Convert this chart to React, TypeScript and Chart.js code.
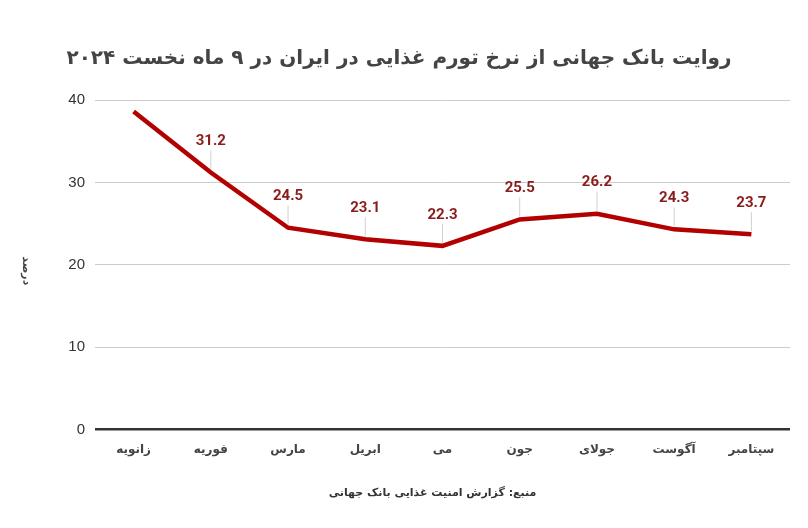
import { useEffect, useRef } from "react"
import { Chart, registerables } from "chart.js"

Chart.register(...registerables)

// Food inflation in Iran, first 9 months of 2024 (World Bank)
const months = ["زانویه", "فوریه", "مارس", "ابریل", "می", "جون", "جولای", "آگوست", "سپتامبر"]
const inflation = [38.6, 31.2, 24.5, 23.1, 22.3, 25.5, 26.2, 24.3, 23.7]
const yTicks = [0, 10, 20, 30, 40]

const titleText = "روایت بانک جهانی از نرخ تورم غذایی در ایران در ۹ ماه نخست ۲۰۲۴"
const yTitleText = "درصد"
const sourceText = "منبع: گزارش امنیت غذایی بانک جهانی"

const persianFont = "'DejaVu Sans', sans-serif"

// value labels above the points with a thin leader line (first point has none)
const valueLabels = {
  id: "valueLabels",
  afterDatasetsDraw(chart: any) {
    const { ctx } = chart
    const meta = chart.getDatasetMeta(0)
    ctx.save()
    ctx.font = "bold 15px Roboto, sans-serif"
    ctx.textAlign = "center"
    ctx.textBaseline = "middle"
    meta.data.forEach((pt: any, i: number) => {
      if (i === 0) return
      const ly = pt.y - 31
      ctx.strokeStyle = "#d0d0d0"
      ctx.lineWidth = 1
      ctx.beginPath()
      ctx.moveTo(pt.x, ly + 9)
      ctx.lineTo(pt.x, pt.y - 3)
      ctx.stroke()
      ctx.fillStyle = "#8a1c1c"
      ctx.fillText(inflation[i].toFixed(1), pt.x, ly)
    })
    ctx.restore()
  },
}

// y title reads top-to-bottom, source line under the axis
const extraText = {
  id: "extraText",
  afterDraw(chart: any) {
    const { ctx, chartArea } = chart
    ctx.save()
    ctx.fillStyle = "#444"
    ctx.font = `bold 11px ${persianFont}`
    ctx.textAlign = "center"
    ctx.textBaseline = "middle"
    ctx.translate(18, (chartArea.top + chartArea.bottom) / 2 + 6)
    ctx.rotate(Math.PI / 2)
    ctx.fillText(yTitleText, 0, 0)
    ctx.restore()

    ctx.save()
    ctx.fillStyle = "#333"
    ctx.font = `bold 11px ${persianFont}`
    ctx.textAlign = "center"
    ctx.textBaseline = "middle"
    ctx.fillText(sourceText, (chartArea.left + chartArea.right) / 2 - 10, chartArea.bottom + 64)
    ctx.restore()
  },
}

function InflationChart() {
  const chartRef = useRef<HTMLCanvasElement>(null)
  const chartInstance = useRef<Chart | null>(null)

  useEffect(() => {
    if (!chartRef.current) return
    if (chartInstance.current) chartInstance.current.destroy()
    const ctx = chartRef.current.getContext("2d")
    if (!ctx) return

    chartInstance.current = new Chart(ctx, {
      type: "line",
      data: {
        labels: months,
        datasets: [
          {
            label: "نرخ تورم غذایی",
            data: inflation,
            borderColor: "#b30000",
            backgroundColor: "#b30000",
            borderWidth: 4.5,
            pointRadius: 0,
            tension: 0,
          },
        ],
      },
      plugins: [valueLabels, extraText],
      options: {
        responsive: true,
        maintainAspectRatio: false,
        animation: false,
        layout: { padding: { left: 0, right: 10, bottom: 58 } },
        plugins: {
          legend: { display: false },
          tooltip: { enabled: false },
          title: {
            display: true,
            text: titleText,
            color: "#444",
            font: { family: persianFont, size: 20, weight: "bold" },
            padding: { top: 39, bottom: 29 },
          },
        },
        scales: {
          x: {
            offset: true,
            grid: { display: false },
            border: { display: false },
            ticks: {
              color: "#444",
              font: { family: persianFont, size: 12, weight: "bold" },
              padding: 5,
              maxRotation: 0,
            },
          },
          y: {
            min: 0,
            max: 40,
            afterFit: (scale: any) => {
              scale.width = 87
            },
            afterBuildTicks: (scale: any) => {
              scale.ticks = yTicks.map((v) => ({ value: v }))
            },
            border: { display: false },
            grid: {
              drawTicks: false,
              color: (c: any) => (c.tick && c.tick.value === 0 ? "#333" : "#cccccc"),
              lineWidth: (c: any) => (c.tick && c.tick.value === 0 ? 2.5 : 1),
            },
            ticks: {
              color: "#333",
              font: { family: "'Liberation Sans', Arial, sans-serif", size: 15 },
              padding: 10,
            },
          },
        },
      },
    })

    return () => {
      if (chartInstance.current) chartInstance.current.destroy()
    }
  }, [])

  return (
    <div style={{ width: 792, height: 512, background: "#fff" }}>
      <canvas ref={chartRef} />
    </div>
  )
}

export default function App() {
  return <InflationChart />
}
